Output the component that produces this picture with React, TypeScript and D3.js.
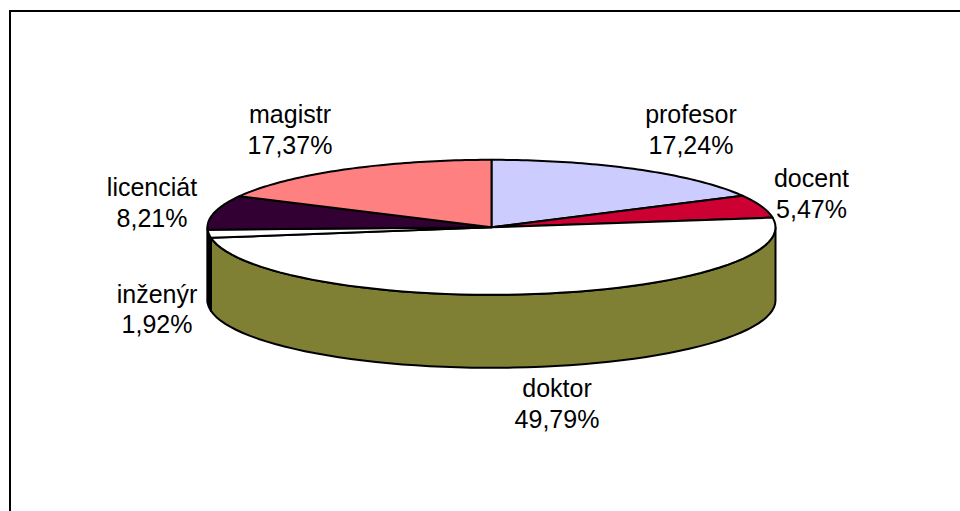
import React from "react";
import * as d3 from "d3";

const categories = ["profesor", "docent", "doktor", "inženýr", "licenciát", "magistr"];
const shares = [17.24, 5.47, 49.79, 1.92, 8.21, 17.37];
const shareLabels = ["17,24%", "5,47%", "49,79%", "1,92%", "8,21%", "17,37%"];
const colors = ["#ccccff", "#cc0033", "#ffffff", "#ffffff", "#330033", "#ff8080"];
const wallColors: Record<string, string> = { doktor: "#808035", "inženýr": "#000000" };
const labelCenters: [number, number][] = [
  [691, 123], [811.5, 187], [557, 397], [157, 302.5], [152, 196], [290, 123],
];

const cx = 491.5, cy = 227.3, rx = 284, ry = 67.5, depth = 73;
const px = d3.scaleLinear().domain([-1, 1]).range([cx - rx, cx + rx]);
const py = d3.scaleLinear().domain([-1, 1]).range([cy - ry, cy + ry]);
const ring = (a: number): [number, number] => [px(Math.sin(a)), py(-Math.cos(a))];
const sweep = (a0: number, a1: number): [number, number][] =>
  d3.range(0, 61).map((i) => ring(a0 + ((a1 - a0) * i) / 60));

const arcs = d3.pie<number>().sort(null)(shares);
const line = d3.line();

export default function App() {
  const lo = Math.PI / 2, hi = (3 * Math.PI) / 2;
  return (
    <svg width={960} height={511} style={{ position: "absolute", left: 0, top: 0, background: "#fff" }}>
      <path d="M10 511V11H960" fill="none" stroke="#000" strokeWidth={2} shapeRendering="crispEdges" />
      {arcs.map((d, i) => {
        const a0 = Math.max(d.startAngle, lo), a1 = Math.min(d.endAngle, hi);
        if (a1 <= a0) return null;
        const top = sweep(a0, a1);
        const bottom = top.map(([x, y]) => [x, y + depth] as [number, number]).reverse();
        return (
          <path key={"w" + i} d={line([...top, ...bottom])! + "Z"}
            fill={wallColors[categories[i]] ?? colors[i]} stroke="#000" strokeWidth={2} strokeLinejoin="round" />
        );
      })}
      {arcs.map((d, i) => (
        <path key={"t" + i} d={line([[cx, cy], ...sweep(d.startAngle, d.endAngle)])! + "Z"}
          fill={colors[i]} stroke="#000" strokeWidth={2} strokeLinejoin="round" />
      ))}
      {categories.map((c, i) => (
        <text key={c} textAnchor="middle" fontFamily="Liberation Sans" fontSize={25} fill="#000">
          <tspan x={labelCenters[i][0]} y={labelCenters[i][1]}>{c}</tspan>
          <tspan x={labelCenters[i][0]} y={labelCenters[i][1] + 30.5}>{shareLabels[i]}</tspan>
        </text>
      ))}
    </svg>
  );
}
